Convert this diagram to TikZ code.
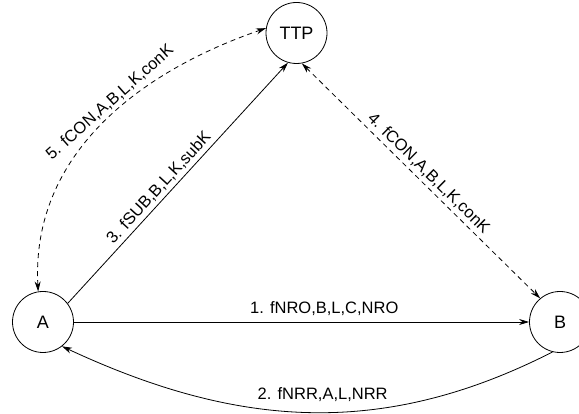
\documentclass[tikz,border=0pt]{standalone}
\usepackage{fontspec}
\setmainfont{Liberation Sans}
\usetikzlibrary{arrows.meta}

\begin{document}
\begin{tikzpicture}[x=1pt,y=1pt,line width=0.8pt,
    >={Stealth[length=10pt,width=6pt]},
    party/.style={circle,draw,minimum size=61pt,inner sep=0pt,font=\fontsize{18}{21}\selectfont},
    lbl/.style={font=\fontsize{16.5}{20}\selectfont},
    ctl/.style={dashed,dash pattern=on 5pt off 4pt}]
    \useasboundingbox (0,0) rectangle (579,414);
    \node[party] (A) at (43,92) {A};
    \node[party] (B) at (560,92) {B};
    \node[party] (TTP) at (296.5,381) {TTP};
    \path[->]
    (A) edge node[lbl, above=3pt, pos=0.55] {1. fNRO,B,L,C,NRO} (B)
    (B.256) edge[out=207, in=-25] node[lbl, above=7pt, pos=0.47] {2. fNRR,A,L,NRR} (A.-52)
    (A.37) edge node[lbl, above, sloped, pos=0.45] {3. fSUB,B,L,K,subK} (TTP.254)
    ;
    \path[<->, ctl]
    (TTP.280) edge node[lbl, above, sloped] {4. fCON,A,B,L,K,conK} (B.130)
    (A.99) edge[out=93, in=199] node[lbl, above, sloped, pos=0.56] {5. fCON,A,B,L,K,conK} (TTP.171)
    ;
\end{tikzpicture}
\end{document}
